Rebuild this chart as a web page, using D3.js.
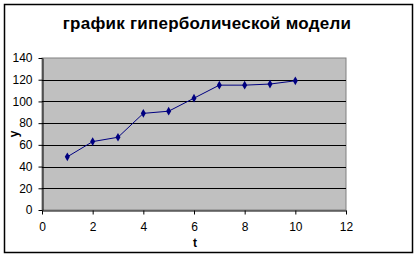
<!DOCTYPE html>
<html>
<head>
<meta charset="utf-8">
<script src="https://d3js.org/d3.v7.min.js"></script>
<style>
body{margin:0;background:#fff;font-family:Arial,'Liberation Sans',sans-serif}
svg{display:block}
.tick text{font-size:12px;fill:#000}
</style>
</head>
<body>
<div id="chart"></div>
<script>
// data
const tValues = [1, 2, 3, 4, 5, 6, 7, 8, 9, 10];
const yValues = [49, 63, 67, 89, 91, 103, 115, 115, 116, 119];
const xTicks = [0, 2, 4, 6, 8, 10, 12];
const yTicks = [0, 20, 40, 60, 80, 100, 120, 140];
const title = "график гиперболической модели";

const W = 417, H = 258;
const m = {left: 42, right: 71, top: 58, bottom: 48};

const svg = d3.select("#chart").append("svg")
    .attr("width", W).attr("height", H);

svg.append("rect")
    .attr("x", 4.5).attr("y", 4.5)
    .attr("width", 408).attr("height", 248)
    .attr("fill", "#fff").attr("stroke", "#000").attr("stroke-width", 1.5);

var x = d3.scaleLinear().domain([0, 12]).range([m.left, W - m.right]);
var y = d3.scaleLinear().domain([0, 140]).range([H - m.bottom, m.top]);

// plot area
svg.append("rect")
    .attr("x", x(0)).attr("y", y(140))
    .attr("width", x(12) - x(0)).attr("height", y(0) - y(140))
    .attr("fill", "#c0c0c0").attr("stroke", "#808080");

// gridlines
svg.append("g").selectAll("line")
    .data(yTicks.filter(d => d > 0 && d < 140))
    .enter().append("line")
    .attr("x1", x(0)).attr("x2", x(12))
    .attr("y1", d => Math.round(y(d)) + 0.5).attr("y2", d => Math.round(y(d)) + 0.5)
    .attr("stroke", "#000");

// axes
svg.append("g")
    .attr("transform", "translate(0," + (Math.round(y(0)) + 0.5) + ")")
    .call(d3.axisBottom(x).tickValues(xTicks).tickSize(4).tickPadding(8).tickSizeOuter(0))
    .call(g => g.select(".domain").attr("stroke", "#000"))
    .call(g => g.selectAll(".tick text").attr("font-family", "Arial"));

svg.append("g")
    .attr("transform", "translate(" + (Math.round(x(0)) + 0.5) + ",0)")
    .call(d3.axisLeft(y).tickValues(yTicks).tickSize(4).tickPadding(6).tickSizeOuter(0))
    .call(g => g.select(".domain").attr("stroke", "#000"))
    .call(g => g.selectAll(".tick text").attr("font-family", "Arial"));

// series
var pts = tValues.map((t, i) => [t, yValues[i]]);
svg.append("path")
    .datum(pts)
    .attr("fill", "none")
    .attr("stroke", "#000080")
    .attr("stroke-width", 1)
    .attr("d", d3.line().x(d => x(d[0])).y(d => y(d[1])));

svg.append("g").selectAll("path")
    .data(pts)
    .enter().append("path")
    .attr("transform", d => "translate(" + x(d[0]) + "," + y(d[1]) + ")")
    .attr("d", d3.symbol().type(d3.symbolDiamond).size(22))
    .attr("fill", "#000080");

// titles
svg.append("text")
    .attr("x", 207).attr("y", 29)
    .attr("text-anchor", "middle")
    .attr("font-size", 17).attr("font-weight", "bold")
    .attr("letter-spacing", 0.25)
    .text(title);

svg.append("text")
    .attr("x", 195).attr("y", 247)
    .attr("text-anchor", "middle")
    .attr("font-size", 12).attr("font-weight", "bold")
    .text("t");

svg.append("text")
    .attr("transform", "translate(18,134) rotate(-90)")
    .attr("text-anchor", "middle")
    .attr("font-size", 12).attr("font-weight", "bold")
    .text("y");
</script>
</body>
</html>
